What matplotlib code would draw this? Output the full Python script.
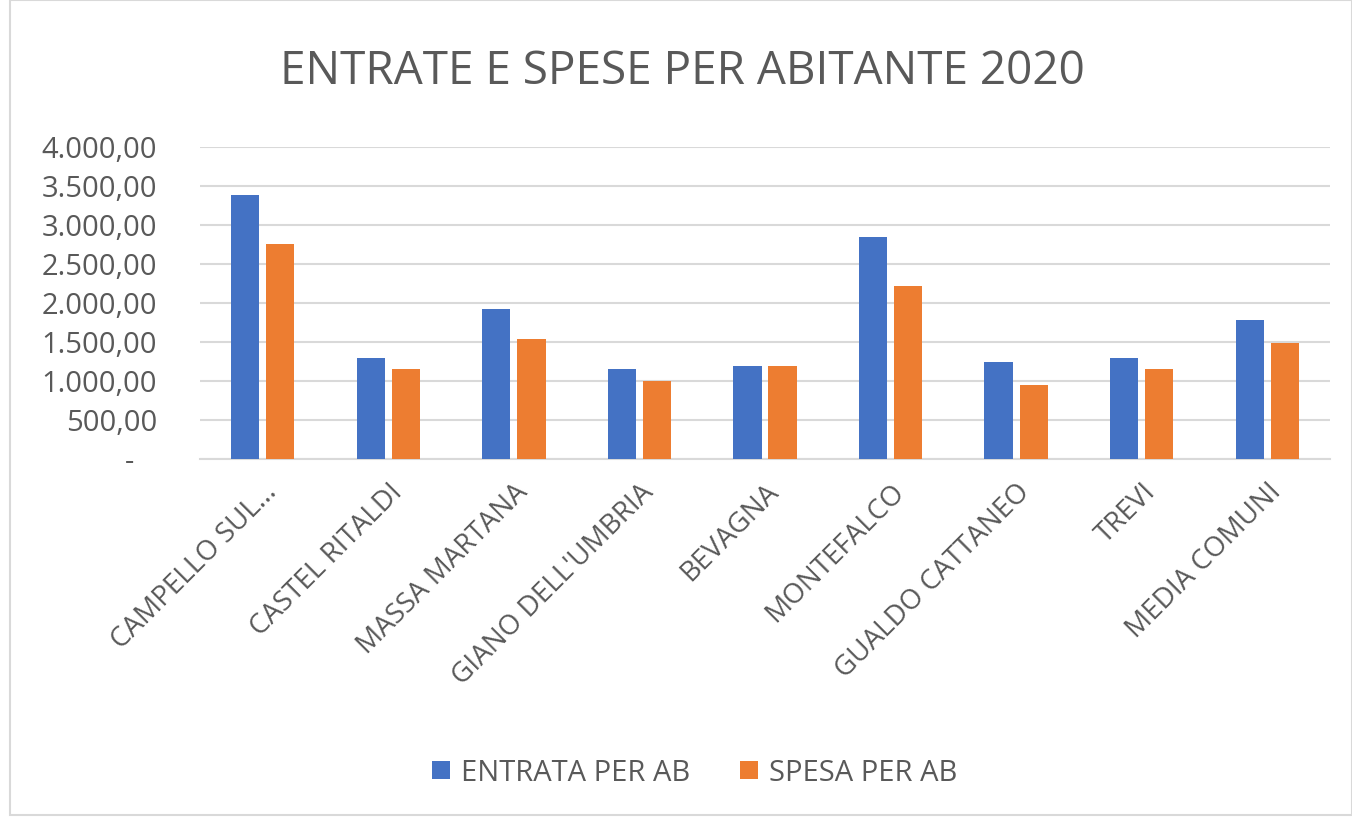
import numpy as np
import matplotlib.pyplot as plt
from matplotlib.ticker import FuncFormatter

comuni = ["CAMPELLO SUL...", "CASTEL RITALDI", "MASSA MARTANA", "GIANO DELL'UMBRIA",
          "BEVAGNA", "MONTEFALCO", "GUALDO CATTANEO", "TREVI", "MEDIA COMUNI"]
entrata = [3388, 1293, 1927, 1148, 1195, 2852, 1246, 1293, 1782]
spesa = [2754, 1148, 1537, 1002, 1195, 2223, 951, 1148, 1486]
yticks = [0, 500, 1000, 1500, 2000, 2500, 3000, 3500, 4000]

blue = '#4472C4'
orange = '#ED7D31'
grey = '#595959'

plt.rcParams['font.family'] = ['Open Sans', 'DejaVu Sans']

fig = plt.figure(figsize=(13.52, 8.21), dpi=100)
ax = fig.add_axes([200 / 1352, 1 - 459 / 821, 1130 / 1352, 312 / 821])

x = np.arange(len(comuni))
w = 0.225
ax.bar(x - 0.14, entrata, w, color=blue, label='ENTRATA PER AB', zorder=3)
ax.bar(x + 0.14, spesa, w, color=orange, label='SPESA PER AB', zorder=3)

ax.set_xlim(-0.5, len(comuni) - 0.5)
ax.set_ylim(0, 4000)
ax.set_yticks(yticks)


def fmt(v, pos):
    # accounting style: zero shown as a dash
    if v == 0:
        return '-   '
    s = f"{v:,.2f}"
    return s.replace(',', 'X').replace('.', ',').replace('X', '.')


ax.yaxis.set_major_formatter(FuncFormatter(fmt))
ax.grid(axis='y', color='#d9d9d9', linewidth=1.5, zorder=0)
for s in ['top', 'right', 'left']:
    ax.spines[s].set_visible(False)
ax.spines['bottom'].set_color('#d9d9d9')
ax.spines['bottom'].set_linewidth(1.5)
ax.tick_params(axis='both', length=0, colors=grey)
ax.tick_params(axis='y', labelsize=21, pad=31)

ax.set_xticks(x)
ax.set_xticklabels(comuni, rotation=45, ha='right', rotation_mode='anchor')
ax.tick_params(axis='x', labelsize=20, pad=14)

fig.text(0.505, 1 - 72 / 821, 'ENTRATE E SPESE PER ABITANTE 2020', ha='center', va='center',
         fontsize=33, color=grey)

fig.legend(loc='center', bbox_to_anchor=(0.514, 1 - 773 / 821), ncol=2, frameon=False,
           fontsize=21, labelcolor=grey, handlelength=0.6, handleheight=0.6,
           columnspacing=1.7, handletextpad=0.4)

# chart border
fig.add_artist(plt.Rectangle((10 / 1352, 6 / 821), 1 - 10 / 1352, 1 - 6 / 821,
                             transform=fig.transFigure, fill=False,
                             edgecolor='#d9d9d9', linewidth=1.5))

fig.savefig('out.png', dpi=100)
